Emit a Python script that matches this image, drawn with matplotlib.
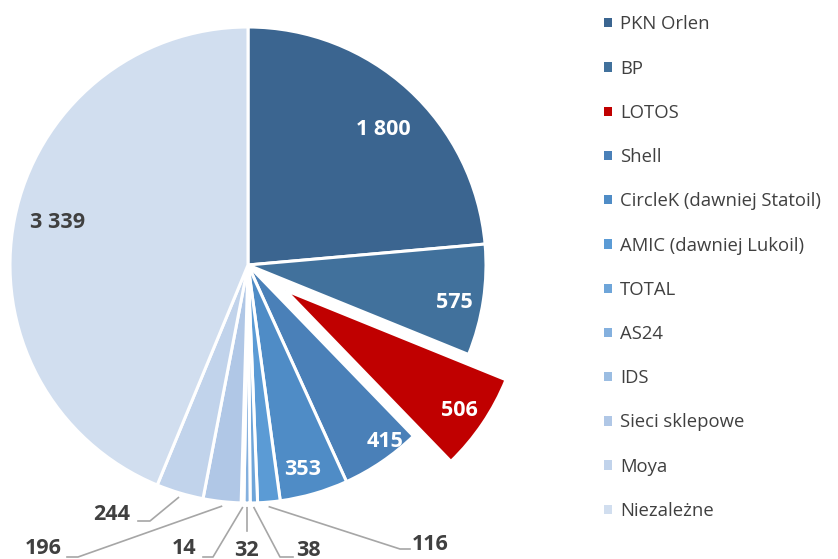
import numpy as np
import matplotlib.pyplot as plt

plt.rcParams['font.family'] = ['Open Sans', 'DejaVu Sans']

# dane
firmy = ['PKN Orlen', 'BP', 'LOTOS', 'Shell', 'CircleK (dawniej Statoil)',
         'AMIC (dawniej Lukoil)', 'TOTAL', 'AS24', 'IDS', 'Sieci sklepowe',
         'Moya', 'Niezależne']
stacje = [1800, 575, 506, 415, 353, 116, 38, 32, 14, 196, 244, 3339]
etykiety = ['1 800', '575', '506', '415', '353', '116', '38', '32', '14',
            '196', '244', '3 339']
kolory = ['#3b6590', '#41719c', '#c00000', '#4a80b8', '#4f8cc6', '#5b9bd5',
          '#6ea5d9', '#84b0de', '#9bbde2', '#b0c7e6', '#c1d3eb', '#d1deef']
wysuniecie = [0, 0, 0.19, 0, 0, 0, 0, 0, 0, 0, 0, 0]

# etykiety w srodku: (promien, przesuniecie kata, kolor)
wewn = {0: (0.81, -2, 'white'), 1: (0.88, -1, 'white'), 2: (0.88, 0, 'white'),
        3: (0.93, 4, 'white'), 4: (0.88, -1, 'white'), 11: (0.82, -2, '#404040')}
# etykiety na zewnatrz: pozycja tekstu i punkty linii (w pikselach obrazka)
zewn = {5: ((430, 544), [(400, 549), (410, 549)]),
        6: ((308, 550), [(280, 557), (293, 557)]),
        7: ((246, 550), [(247, 531)]),
        8: ((184, 549), [(213, 557), (203, 557)]),
        9: ((43, 549), [(78, 557), (67, 557)]),
        10: ((112, 514), [(150, 521), (138, 521)])}

R = 238.0
cx, cy = 248.0, 265.0


def px(p):
    return ((p[0] - cx) / R, (cy - p[1]) / R)


fig = plt.figure(figsize=(8.38, 5.59), dpi=100)
ax = fig.add_axes([0, 0, 1, 1])
wedges, _ = ax.pie(stacje, colors=kolory, startangle=90, counterclock=False,
                   explode=wysuniecie, radius=1,
                   wedgeprops=dict(edgecolor='white', linewidth=2.2))
ax.set_xlim(-cx / R, (838 - cx) / R)
ax.set_ylim(-(559 - cy) / R, cy / R)
ax.set_aspect('equal')
ax.axis('off')

for i, w in enumerate(wedges):
    mid = np.deg2rad((w.theta1 + w.theta2) / 2)
    ox, oy = w.center
    if i in wewn:
        r, d, c = wewn[i]
        a = mid + np.deg2rad(d)
        ax.text(ox + r * np.cos(a), oy + r * np.sin(a), etykiety[i],
                ha='center', va='center_baseline', color=c, fontsize=15.5,
                fontweight='bold')
    else:
        (tx, ty), pts = zewn[i]
        sx, sy = 1.02 * np.cos(mid), 1.02 * np.sin(mid)
        xs = [sx] + [px(p)[0] for p in pts]
        ys = [sy] + [px(p)[1] for p in pts]
        ax.plot(xs, ys, color='#a6a6a6', lw=1.2)
        t = px((tx, ty))
        ax.text(t[0], t[1], etykiety[i], ha='center', va='center',
                color='#404040', fontsize=15.5, fontweight='bold')

# kwadraty legendy bez bialej obwodki
uchwyty = [plt.Rectangle((0, 0), 1, 1, fc=w.get_facecolor(), ec='none') for w in wedges]
fig.legend(uchwyty, firmy, loc='upper left', bbox_to_anchor=(597 / 838, 1 - 8 / 559),
           borderaxespad=0, frameon=False, fontsize=13.3, handlelength=0.4,
           handleheight=0.4, handletextpad=0.45, labelspacing=1.42,
           labelcolor='#404040')

fig.savefig('out.png', dpi=100)
